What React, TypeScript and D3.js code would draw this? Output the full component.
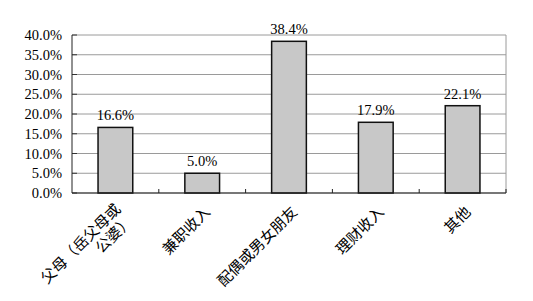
import React from "react";
import * as d3 from "d3";

const categories: string[][] = [
  ["父母（岳父母或", "公婆）"],
  ["兼职收入"],
  ["配偶或男女朋友"],
  ["理财收入"],
  ["其他"],
];
const values: number[] = [16.6, 5.0, 38.4, 17.9, 22.1];
const yTicks: number[] = [0, 5, 10, 15, 20, 25, 30, 35, 40];

const W = 533;
const H = 301;
const left = 72;
const right = 506;
const top = 35;
const bottom = 193;
const font = "'Liberation Serif', 'Times New Roman', 'Noto Sans CJK SC', serif";

export default function App() {
  const x = d3
    .scaleBand<number>()
    .domain(d3.range(categories.length))
    .range([left, right])
    .paddingInner(0.6)
    .paddingOuter(0.3);
  const band = d3.scaleBand<number>().domain(d3.range(categories.length)).range([left, right]);
  const y = d3.scaleLinear().domain([0, 40]).range([bottom, top]);

  return (
    <svg
      width={W}
      height={H}
      style={{ position: "absolute", left: 0, top: 0, background: "#fff" }}
      fontFamily={font}
    >
      {/* gridlines */}
      {yTicks.map((t) => (
        <line key={"g" + t} x1={left} x2={right} y1={y(t)} y2={y(t)} stroke="#9a9a9a" strokeWidth={1} />
      ))}
      {/* right border */}
      <line x1={right} x2={right} y1={top} y2={bottom} stroke="#9a9a9a" strokeWidth={1} />
      {/* y ticks and labels */}
      {yTicks.map((t) => (
        <g key={"t" + t}>
          <line x1={left} x2={left + 5} y1={y(t)} y2={y(t)} stroke="#333" strokeWidth={1} />
          <text x={62} y={y(t) + 5} fontSize={14.5} textAnchor="end" fill="#000">
            {t.toFixed(1) + "%"}
          </text>
        </g>
      ))}
      {/* bars */}
      {values.map((v, i) => (
        <g key={"b" + i}>
          <rect
            x={x(i)!}
            y={y(v)}
            width={x.bandwidth()}
            height={y(0) - y(v)}
            fill="#c8c8c8"
            stroke="#111"
            strokeWidth={1.5}
          />
          <text x={x(i)! + x.bandwidth() / 2} y={y(v) - 7} fontSize={14.5} textAnchor="middle" fill="#000">
            {v.toFixed(1) + "%"}
          </text>
        </g>
      ))}
      {/* axes */}
      <line x1={left} x2={left} y1={top} y2={bottom} stroke="#222" strokeWidth={1} />
      <line x1={left} x2={right} y1={bottom} y2={bottom} stroke="#222" strokeWidth={1.2} />
      {d3.range(1, categories.length + 1).map((i) => {
        const bx = left + i * band.bandwidth();
        return <line key={"xt" + i} x1={bx} x2={bx} y1={bottom - 4} y2={bottom} stroke="#222" strokeWidth={1} />;
      })}
      {/* x labels */}
      {categories.map((lines, i) => {
        const cx = band(i)! + band.bandwidth() / 2;
        const shift = (lines.length - 1) * 4;
        return (
          <g key={"xl" + i} transform={`translate(${cx + 9 - shift * 0.707},${213 - shift * 0.707}) rotate(-45)`}>
            <text fontSize={15} textAnchor="end" fill="#000">
              {lines.map((ln, j) => (
                <tspan key={j} x={0} dy={j === 0 ? 0 : 17}>
                  {ln}
                </tspan>
              ))}
            </text>
          </g>
        );
      })}
    </svg>
  );
}
